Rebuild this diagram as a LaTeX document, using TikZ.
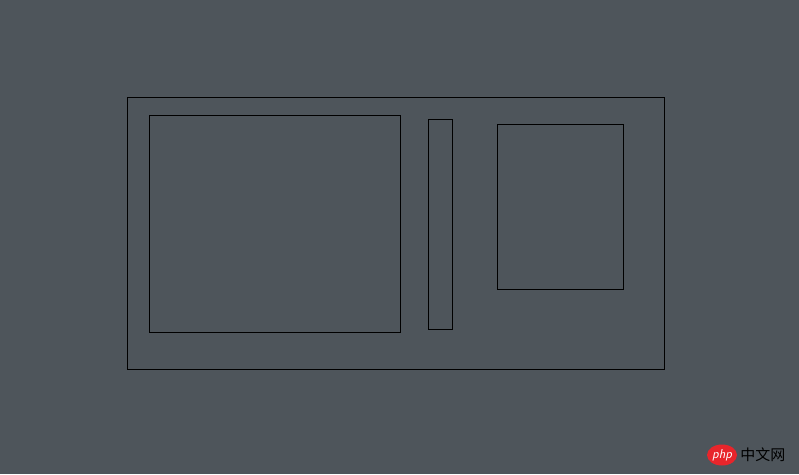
\documentclass[tikz,border=0pt]{standalone}
\usepackage{fontspec}
\usetikzlibrary{shapes.geometric, positioning}
\newfontfamily\cjk{Noto Sans CJK SC}
\definecolor{bg}{HTML}{4E555B}
\definecolor{phpred}{HTML}{E8252B}
\begin{document}
\begin{tikzpicture}[x=1pt, y=-1pt, box/.style={draw=black, line width=0.8pt, inner sep=0pt}]

\fill[bg] (0,0) rectangle (799,474);
\useasboundingbox (0,0) rectangle (799,474);

\node (outer)[box, minimum width=537pt, minimum height=272pt] at (395.5, 233) {};

\node (left)[box, minimum width=251pt, minimum height=217pt] at (274.5, 223.5) {};
\node (mid)[box, minimum width=24pt, minimum height=210pt] at (440, 224) {};
\node (right)[box, minimum width=126pt, minimum height=165pt] at (560, 206.5) {};

\node (logo)[ellipse, fill=phpred, minimum width=30pt, minimum height=21pt, inner sep=0pt, text=white, font=\sffamily\itshape\fontsize{13}{13}\selectfont] at (722, 455) {php};
\node (site)[right=3pt of logo, inner sep=0pt, font=\cjk\fontsize{15}{15}\selectfont, text=black] {中文网};

\end{tikzpicture}
\end{document}
